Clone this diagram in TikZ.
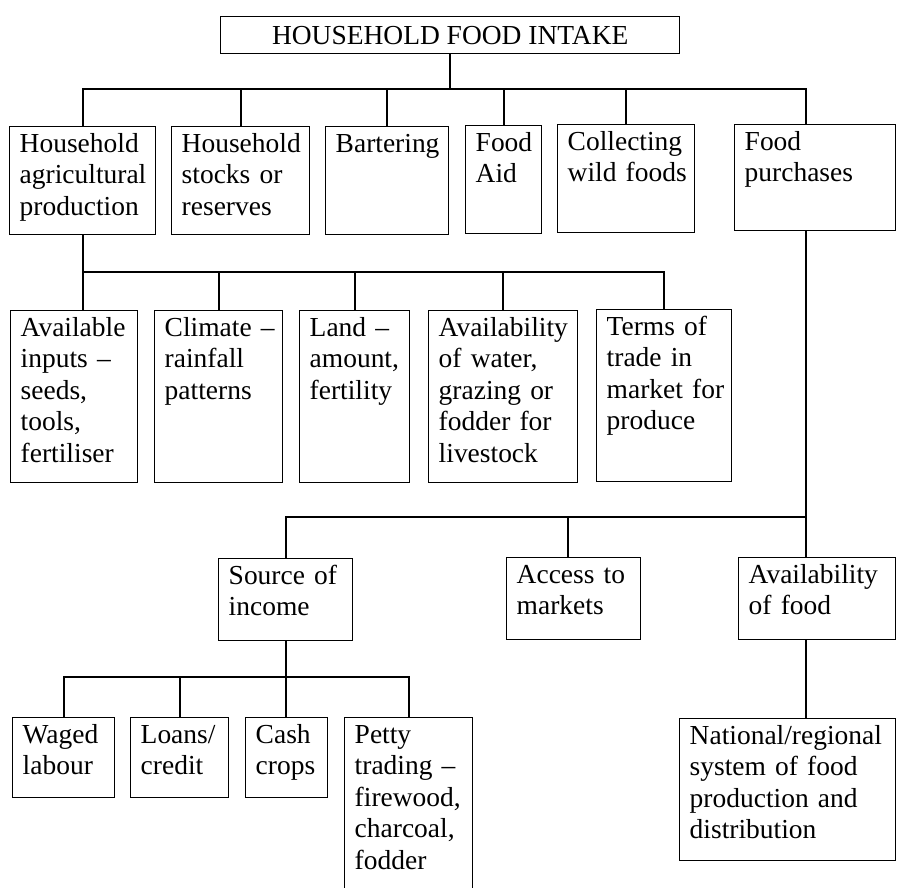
\documentclass[tikz,border=0pt]{standalone}
\usepackage{fontspec}
\setmainfont{Liberation Serif}
\usetikzlibrary{calc}

\begin{document}
\begin{tikzpicture}[x=0.75pt,y=0.75pt,yscale=-1,xscale=1,
  box/.style={draw, line width=1.1pt, anchor=north west, align=left,
    inner xsep=7.5pt, inner ysep=0pt, text height=19.1pt,
    font=\fontsize{20.6}{23.6}\selectfont},
  blk/.style 2 args={box, text width={(#1-20)*0.75pt}, text depth={#2*0.75pt-19.1pt}},
  title/.style={draw, line width=1.1pt, anchor=north west, inner sep=0pt,
    minimum width=#1, minimum height=27.75pt,
    font=\fontsize{20.6}{23.6}\selectfont},
  link/.style={line width=1.6pt, line cap=rect}]
\useasboundingbox (0,0) rectangle (897,888);

% Top box
\node[title=344.25pt] (intake) at (220,16) {HOUSEHOLD FOOD INTAKE};

% First row
\node[blk={146}{108}] (agri) at (9,126) {Household\\agricultural\\production};
\node[blk={138}{108}] (stocks) at (171,126) {Household\\stocks~or\\reserves};
\node[blk={123}{108}] (barter) at (325,126) {Bartering};
\node[blk={76}{108}] (aid) at (465,125) {Food\\Aid};
\node[blk={137}{108}] (wild) at (557,124) {Collecting\\wild~foods};
\node[blk={161}{106}] (purch) at (734,124) {Food\\purchases};

% Second row
\node[blk={127}{172}] (inputs) at (10,310) {Available\\\mbox{inputs --}\\seeds,\\tools,\\fertiliser};
\node[blk={128}{172}] (climate) at (154,310) {\mbox{Climate --}\\rainfall\\patterns};
\node[blk={110}{172}] (land) at (299,310) {\mbox{Land --}\\amount,\\fertility};
\node[blk={149}{172}] (water) at (428,310) {Availability\\of~water,\\grazing~or\\fodder~for\\livestock};
\node[blk={135}{172}] (terms) at (596,309) {Terms~of\\trade~in\\market~for\\produce};

% Third row
\node[blk={134}{82}] (income) at (218,558) {Source~of\\income};
\node[blk={134}{82}] (access) at (506,557) {Access~to\\markets};
\node[blk={157}{82}] (avail) at (738,557) {Availability\\of~food};

% Fourth row
\node[blk={102}{80}] (waged) at (12,717) {Waged\\labour};
\node[blk={98}{80}] (loans) at (130,717) {Loans/\\credit};
\node[blk={82}{80}] (cash) at (245,717) {Cash\\crops};
\node[blk={128}{200}] (petty) at (344,717) {Petty\\\mbox{trading --}\\firewood,\\charcoal,\\fodder};
\node[blk={216}{142}] (national) at (679,718) {National/regional\\system~of~food\\production~and\\distribution};

% Tree lines
\coordinate (bus1) at (0,89);
\coordinate (bus2) at (0,272);
\coordinate (bus3) at (0,517);
\coordinate (bus4) at (0,677);
\coordinate (pline) at (806,0);
\coordinate (aline) at (568,0);

\draw[link] (intake.south) -- (intake.south |- bus1);
\draw[link] (agri.north |- bus1) -- (pline |- bus1);
\foreach \n in {agri,stocks,barter,aid,wild}
  \draw[link] (\n.north) -- (\n.north |- bus1);
\draw[link] (purch.north -| pline) -- (pline |- bus1);

\draw[link] (agri.south) -- (agri.south |- inputs.north);
\draw[link] (agri.south |- bus2) -- (terms.north |- bus2);
\foreach \n in {climate,land,water,terms}
  \draw[link] (\n.north) -- (\n.north |- bus2);

\draw[link] (purch.south -| pline) -- (avail.north -| pline);
\draw[link] (income.north |- bus3) -- (pline |- bus3);
\draw[link] (income.north) -- (income.north |- bus3);
\draw[link] (access.north -| aline) -- (aline |- bus3);

\draw[link] (income.south) -- (income.south |- cash.north);
\draw[link] (waged.north |- bus4) -- (petty.north |- bus4);
\foreach \n in {waged,loans,petty}
  \draw[link] (\n.north) -- (\n.north |- bus4);
\draw[link] (avail.south -| pline) -- (national.north -| pline);

\end{tikzpicture}
\end{document}
